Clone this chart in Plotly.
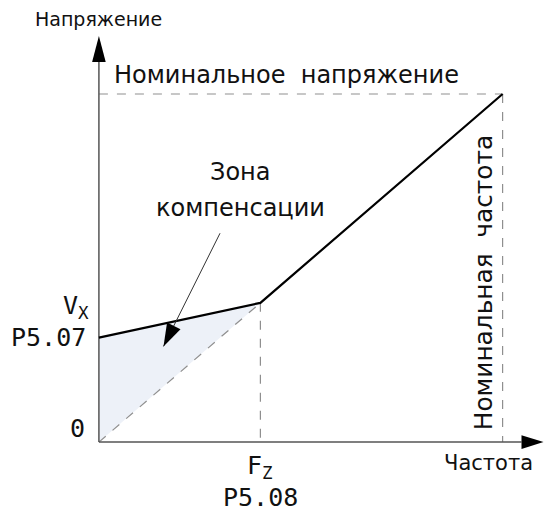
import math
import plotly.graph_objects as go

# ---- data ----
freq_points = [0, 40, 100]          # 0, Fz (P5.08), nominal frequency
volt_points = [30, 40, 100]         # P5.07 (boost), Vx, nominal voltage
fz = 40
vx = 40
v_boost = 30
f_nom = 100
v_nom = 100
y_tick_labels = ["0", "P5.07", "V<sub>X</sub>"]
x_tick_labels = ["F<sub>Z</sub>", "P5.08"]
axis_titles = ["Напряжение", "Частота"]
annotations_text = ["Номинальное  напряжение", "Номинальная  частота", "Зона", "компенсации"]

W, H = 545, 510
x_range = [-24.5, 110.5]
y_range = [-19.5, 127.0]
kx = W / (x_range[1] - x_range[0])
ky = H / (y_range[1] - y_range[0])

SANS = "DejaVu Sans"
MONO = "DejaVu Sans Mono"
TXT = "#111111"

fig = go.Figure()

# shaded compensation zone
fig.add_trace(go.Scatter(
    x=[0, 0, fz, 0], y=[0, v_boost, vx, 0], mode="lines", fill="toself",
    fillcolor="#edf1f8", line=dict(width=0), hoverinfo="skip", showlegend=False))

# dashed guide lines
dash_style = dict(color="#8f8f8f", width=1.2, dash="dash")
fig.add_trace(go.Scatter(x=[0, fz], y=[0, vx], mode="lines", line=dash_style, showlegend=False))
fig.add_trace(go.Scatter(x=[fz, fz], y=[vx, 0], mode="lines", line=dash_style, showlegend=False))
fig.add_trace(go.Scatter(x=[0, f_nom], y=[v_nom, v_nom], mode="lines", line=dash_style, showlegend=False))
fig.add_trace(go.Scatter(x=[f_nom, f_nom], y=[v_nom, 0], mode="lines", line=dash_style, showlegend=False))

# axes with arrow heads
head_half_px = 6.8
x_tip = x_range[1] - 1.5 / kx
y_tip = v_nom + 58.0 / ky
x_base = x_tip - 22.0 / kx
y_base = y_tip - 26.0 / ky
axis_line = dict(color="#555555", width=1.5)
fig.add_trace(go.Scatter(x=[0, 0], y=[0, y_base], mode="lines", line=axis_line, showlegend=False))
fig.add_trace(go.Scatter(x=[0, x_base], y=[0, 0], mode="lines", line=axis_line, showlegend=False))
hx = head_half_px / kx
hy = head_half_px / ky
fig.add_shape(type="path", xref="x", yref="y",
              path=f"M{-hx},{y_base} L{hx},{y_base} L0,{y_tip} Z",
              fillcolor="black", line=dict(width=0))
fig.add_shape(type="path", xref="x", yref="y",
              path=f"M{x_base},{-hy} L{x_base},{hy} L{x_tip},0 Z",
              fillcolor="black", line=dict(width=0))

# main V/f curve
fig.add_trace(go.Scatter(x=freq_points, y=volt_points, mode="lines",
                         line=dict(color="black", width=2.2), showlegend=False))

# pointer line with arrow head
p_start = (30.0, 60.0)
p_tip = (16.0, 27.5)
fig.add_trace(go.Scatter(x=[p_start[0], p_tip[0]], y=[p_start[1], p_tip[1]], mode="lines",
                         line=dict(color="#333333", width=1.0), showlegend=False))
sx, sy = p_start[0] * kx, p_start[1] * ky
tx, ty = p_tip[0] * kx, p_tip[1] * ky
dx, dy = tx - sx, ty - sy
L = math.hypot(dx, dy)
ux, uy = dx / L, dy / L
bl, bw = 23.0, 7.5
bx, by = tx - ux * bl, ty - uy * bl
nx, ny = -uy, ux
pts = [(bx + nx * bw, by + ny * bw), (bx - nx * bw, by - ny * bw), (tx, ty)]
path = "M" + " L".join(f"{px / kx},{py / ky}" for px, py in pts) + " Z"
fig.add_shape(type="path", xref="x", yref="y", path=path, fillcolor="black", line=dict(width=0))


def ann(text, x, y, size, family=SANS, xanchor="center", yanchor="middle", angle=0):
    fig.add_annotation(text=text, x=x, y=y, xref="x", yref="y", showarrow=False,
                       xanchor=xanchor, yanchor=yanchor, textangle=angle,
                       font=dict(family=family, size=size, color=TXT))


# axis titles
ann(axis_titles[0], 0, 121.5, 19)
ann(axis_titles[1], 96.5, -6.0, 21)
# tick-like labels
ann(y_tick_labels[0], -2.9, 4.0, 25, MONO, xanchor="right")
ann(y_tick_labels[1], -2.7, v_boost + 0.0, 25, MONO, xanchor="right")
ann(y_tick_labels[2], -2.0, v_boost + 8.8, 25, MONO, xanchor="right")
ann(x_tick_labels[0], fz, -7.2, 25, MONO)
ann(x_tick_labels[1], fz, -15.9, 25, MONO)
# texts
ann(annotations_text[0], 3.2, 105.5, 24, xanchor="left")
ann(annotations_text[1], 95.2, 45.7, 24.8, angle=-90)
ann(annotations_text[2], 35.0, 77.7, 24)
ann(annotations_text[3], 35.0, 67.3, 24)

fig.update_layout(
    width=W, height=H, margin=dict(l=0, r=0, t=0, b=0),
    paper_bgcolor="white", plot_bgcolor="white", showlegend=False,
    xaxis=dict(range=x_range, visible=False, fixedrange=True),
    yaxis=dict(range=y_range, visible=False, fixedrange=True),
)

fig.write_html("out.html", config={"displayModeBar": False},
               post_script="document.body.style.margin='0';")
